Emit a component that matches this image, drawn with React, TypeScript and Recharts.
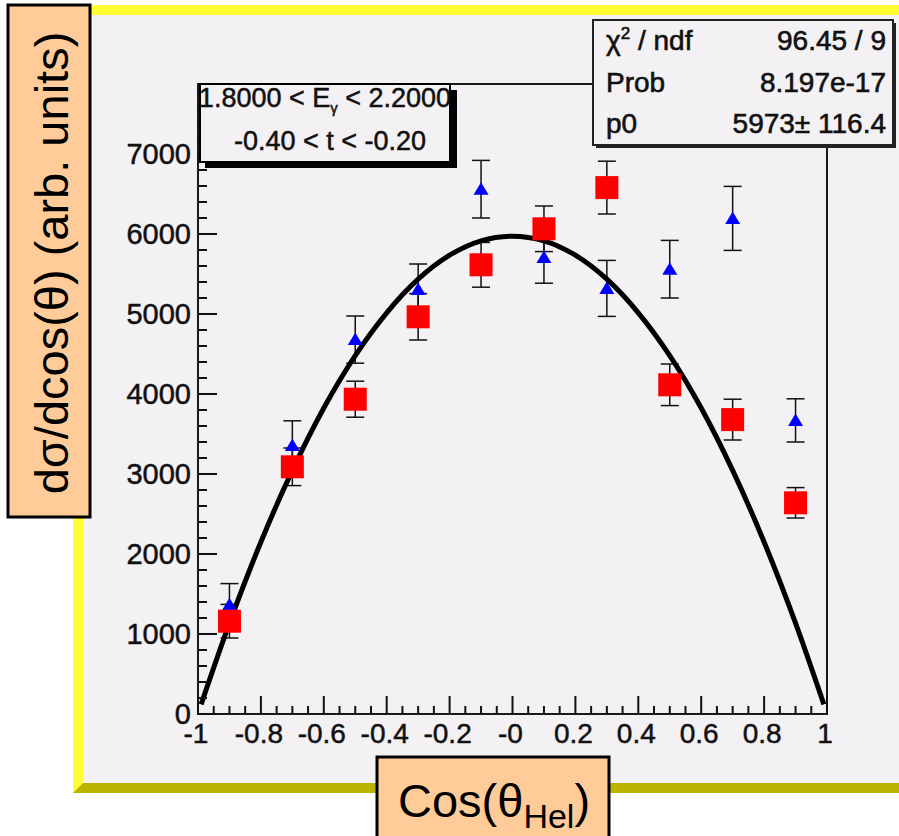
import React from 'react';
import { ComposedChart, Scatter, Line, XAxis, YAxis, ErrorBar, ReferenceArea } from 'recharts';

// bin centres in cos(theta_Hel)
const cosTheta = [-0.9, -0.7, -0.5, -0.3, -0.1, 0.1, 0.3, 0.5, 0.7, 0.9];
// red squares
const redValues = [1160, 3090, 3935, 4965, 5615, 6065, 6580, 4115, 3680, 2640];
const redErrors = [210, 235, 225, 290, 280, 285, 330, 260, 255, 190];
// blue triangles
const blueValues = [1365, 3355, 4680, 5305, 6560, 5705, 5320, 5560, 6195, 3670];
const blueErrors = [265, 310, 295, 320, 360, 320, 350, 360, 400, 270];

// fit curve
const fitX = [-0.99, -0.9, -0.8, -0.7, -0.6, -0.5, -0.4, -0.3, -0.2, -0.1, 0, 0.1, 0.2, 0.3, 0.4, 0.5, 0.6, 0.7, 0.8, 0.9, 0.99];
const fitY = [120, 1135, 2150, 3045, 3825, 4480, 5015, 5435, 5735, 5915, 5973, 5915, 5735, 5435, 5015, 4480, 3825, 3045, 2150, 1135, 120];

const xMajor = [-1, -0.8, -0.6, -0.4, -0.2, 0, 0.2, 0.4, 0.6, 0.8, 1];
const xLabels = ['-1', '-0.8', '-0.6', '-0.4', '-0.2', '-0', '0.2', '0.4', '0.6', '0.8', '1'];
const xTicks = [
  -1, -0.95, -0.9, -0.85, -0.8, -0.75, -0.7, -0.65, -0.6, -0.55, -0.5, -0.45, -0.4, -0.35,
  -0.3, -0.25, -0.2, -0.15, -0.1, -0.05, 0, 0.05, 0.1, 0.15, 0.2, 0.25, 0.3, 0.35, 0.4, 0.45,
  0.5, 0.55, 0.6, 0.65, 0.7, 0.75, 0.8, 0.85, 0.9, 0.95, 1,
];
const yMajor = [0, 1000, 2000, 3000, 4000, 5000, 6000, 7000];
const yLabels = ['0', '1000', '2000', '3000', '4000', '5000', '6000', '7000'];
const yTicks = [
  0, 200, 400, 600, 800, 1000, 1200, 1400, 1600, 1800, 2000, 2200, 2400, 2600, 2800, 3000,
  3200, 3400, 3600, 3800, 4000, 4200, 4400, 4600, 4800, 5000, 5200, 5400, 5600, 5800, 6000,
  6200, 6400, 6600, 6800, 7000, 7200, 7400, 7600, 7800,
];

const redData = cosTheta.map((x, i) => ({ x, y: redValues[i], err: redErrors[i] }));
const blueData = cosTheta.map((x, i) => ({ x, y: blueValues[i], err: blueErrors[i] }));
const fitData = fitX.map((x, i) => ({ x, y: fitY[i] }));

const FONT = '"Liberation Sans", Arial, Helvetica, sans-serif';
const PAD = '#f4f1f4';
const ORANGE = '#ffcc99';
const INK = '#111';

const XTick = (props: any) => {
  const x = Number(props.x);
  const y = Number(props.y);
  const idx = xMajor.findIndex(m => Math.abs(m - props.payload.value) < 1e-6);
  const major = idx >= 0;
  return (
    <g>
      <path d={`M${x},${y}V${y - (major ? 18 : 8)}`} stroke="#111" strokeWidth={2} fill="none" />
      {major && (
        <text x={x - 2} y={y + 29} textAnchor="middle" fontSize={28} fontFamily={FONT}
          fill={INK} stroke={INK} strokeWidth={0.5}>
          {xLabels[idx]}
        </text>
      )}
    </g>
  );
};

const YTick = (props: any) => {
  const x = Number(props.x);
  const y = Number(props.y);
  const idx = yMajor.indexOf(props.payload.value);
  const major = idx >= 0;
  return (
    <g>
      <path d={`M${x},${y}H${x + (major ? 19 : 9)}`} stroke="#111" strokeWidth={2} fill="none" />
      {major && (
        <text x={x - 7} y={y + 10} textAnchor="end" fontSize={29} fontFamily={FONT}
          fill={INK} stroke={INK} strokeWidth={0.5}>
          {yLabels[idx]}
        </text>
      )}
    </g>
  );
};

const Square = (p: any) => (
  <rect x={p.cx - 11.5} y={p.cy - 11.5} width={23} height={23} fill="#ff0000" />
);

const Triangle = (p: any) => (
  <polygon
    points={`${p.cx},${p.cy - 7} ${p.cx - 7.5},${p.cy + 5.5} ${p.cx + 7.5},${p.cy + 5.5}`}
    fill="#0000ff"
  />
);

const layer: React.CSSProperties = { position: 'absolute', left: 0, top: 0 };

const App: React.FC = () => {
  return (
    <div style={{ position: 'absolute', left: 0, top: 0, width: 899, height: 836, background: '#fff' }}>
      {/* pad with bevelled border */}
      <svg width={899} height={836} style={layer}>
        <rect x={73} y={5} width={826} height={788} fill="#ffff33" />
        <polygon points="73,793 83,783 899,783 899,793" fill="#b8b400" />
        <rect x={83} y={15} width={816} height={768} fill={PAD} />
      </svg>

      <div style={layer}>
        <ComposedChart width={899} height={836} margin={{ top: 84, right: 72, bottom: 82, left: 138 }}>
          <XAxis
            type="number"
            dataKey="x"
            domain={[-1, 1]}
            ticks={xTicks}
            interval={0}
            tickSize={0}
            tickMargin={0}
            axisLine={false}
            tickLine={false}
            tick={(p: any) => <XTick {...p} />}
            height={40}
            allowDataOverflow
          />
          <YAxis
            type="number"
            dataKey="y"
            domain={[0, 7875]}
            ticks={yTicks}
            interval={0}
            tickSize={0}
            tickMargin={0}
            axisLine={false}
            tickLine={false}
            tick={(p: any) => <YTick {...p} />}
            width={60}
            allowDataOverflow
          />
          <ReferenceArea x1={-1} x2={1} y1={0} y2={7875} fill="none" stroke="#1a1a1a" strokeWidth={2} />
          <Scatter data={blueData} shape={Triangle} isAnimationActive={false}>
            <ErrorBar dataKey="err" direction="y" width={9} stroke={INK} strokeWidth={1.5} />
          </Scatter>
          <Scatter data={redData} shape={Square} isAnimationActive={false}>
            <ErrorBar dataKey="err" direction="y" width={9} stroke={INK} strokeWidth={1.5} />
          </Scatter>
          <Line
            data={fitData}
            dataKey="y"
            type="monotone"
            stroke="#000"
            strokeWidth={5}
            dot={false}
            activeDot={false}
            isAnimationActive={false}
          />
        </ComposedChart>
      </div>

      {/* boxes drawn over the frame */}
      <svg width={899} height={836} style={{ ...layer, pointerEvents: 'none' }} fontFamily={FONT}>
        <rect x={205} y={90} width={252} height={78} fill="#000" />
        <rect x={200} y={84} width={250} height={78} fill={PAD} stroke="#000" strokeWidth={2} />
        <g fill={INK} stroke={INK} strokeWidth={0.5} fontSize={27}>
          <text x={325} y={107} textAnchor="middle">
            1.8000 {'<'} E<tspan dy={6} fontSize={15}>γ</tspan><tspan dy={-6}> {'<'} 2.2000</tspan>
          </text>
          <text x={330} y={150} textAnchor="middle">
            -0.40 {'<'} t {'<'} -0.20
          </text>
        </g>

        <rect x={596} y={23} width={300} height={125} fill="#222" />
        <rect x={593} y={20} width={300} height={125} fill={PAD} stroke="#222" strokeWidth={2} />
        <g fill={INK} stroke={INK} strokeWidth={0.6} fontSize={28}>
          <text x={606} y={50}>
            χ<tspan dy={-11} fontSize={17}>2</tspan><tspan dy={11}> / ndf</tspan>
          </text>
          <text x={886} y={50} textAnchor="end">96.45 / 9</text>
          <text x={606} y={92}>Prob</text>
          <text x={886} y={92} textAnchor="end">8.197e-17</text>
          <text x={606} y={133}>p0</text>
          <text x={886} y={133} textAnchor="end">5973± 116.4</text>
        </g>

        <rect x={8} y={5} width={82} height={512} fill={ORANGE} stroke="#000" strokeWidth={3} />
        <text x={68} y={263} transform="rotate(-90 68 263)" textAnchor="middle" fontSize={47} fill="#000">
          dσ/dcos(θ) (arb. units)
        </text>

        <rect x={377} y={757} width={232} height={90} fill={ORANGE} stroke="#000" strokeWidth={3} />
        <text x={398} y={817} fontSize={47} fill="#000">
          Cos(θ<tspan dy={11} fontSize={34}>Hel</tspan><tspan dy={-11}>)</tspan>
        </text>
      </svg>
    </div>
  );
};

export default App;
